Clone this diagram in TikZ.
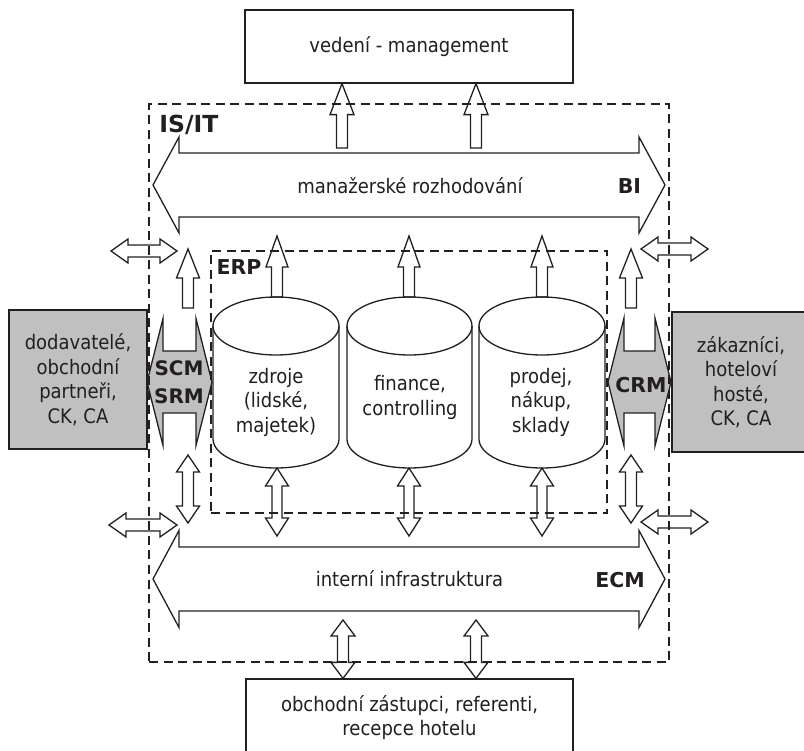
\documentclass[tikz,border=0pt]{standalone}
\usepackage{fontspec}
\setmainfont{DejaVu Sans Condensed}
\newfontfamily\labfont{DejaVu Sans}
\usetikzlibrary{calc}

\definecolor{ink}{RGB}{35,31,32}
\definecolor{boxgray}{RGB}{192,192,192}

% single block arrow: [style]{tail}{tip}{shaft half width}{head half width}{head length}
\newcommand\sglarrow[6][]{%
  \coordinate (hbase) at ($(#3)!#6pt!(#2)$);
  \draw[#1] ($(#2)!#4pt!90:(#3)$) -- ($(hbase)!#4pt!90:(#3)$) -- ($(hbase)!#5pt!90:(#3)$)
    -- (#3) -- ($(hbase)!#5pt!-90:(#3)$) -- ($(hbase)!#4pt!-90:(#3)$)
    -- ($(#2)!#4pt!-90:(#3)$) -- cycle;
}
% double block arrow: [style]{end A}{end B}{shaft half width}{head half width}{head length}
\newcommand\dblarrow[6][]{%
  \coordinate (hbA) at ($(#2)!#6pt!(#3)$);
  \coordinate (hbB) at ($(#3)!#6pt!(#2)$);
  \draw[#1] (#2) -- ($(hbA)!#5pt!90:(#3)$) -- ($(hbA)!#4pt!90:(#3)$)
    -- ($(hbB)!#4pt!90:(#3)$) -- ($(hbB)!#5pt!90:(#3)$) -- (#3)
    -- ($(hbB)!#5pt!-90:(#3)$) -- ($(hbB)!#4pt!-90:(#3)$)
    -- ($(hbA)!#4pt!-90:(#3)$) -- ($(hbA)!#5pt!-90:(#3)$) -- cycle;
}

\begin{document}
\begin{tikzpicture}[x=1pt,y=-1pt,
  ln/.style={draw=ink, line width=1.3pt, line join=miter},
  blk/.style={ln},
  grayarr/.style={ln, fill=boxgray},
  dashbox/.style={draw=ink, line width=2pt, dash pattern=on 9pt off 5.5pt},
  txt/.style={font=\fontsize{20}{24.5}\selectfont, text=ink, align=center, inner sep=0pt},
  lab/.style={font=\labfont\bfseries\fontsize{20.5}{24}\selectfont, text=ink, inner sep=0pt},
  box/.style={ln, fill=white, txt},
  graybox/.style={ln, fill=boxgray, txt},
]
\useasboundingbox (0,0) rectangle (804,751);
\fill[white] (0,0) rectangle (804,751);
\clip (0,0) rectangle (804,751);

% outside parties
\node[box, minimum width=328pt, minimum height=73pt] (mgmt) at (409,46.5) {vedení - management};
\node[box, minimum width=327pt, minimum height=77pt] (staff) at (409.5,717.5)
  {obchodní zástupci, referenti,\\recepce hotelu};
\node[graybox, minimum width=138pt, minimum height=139pt] (supp) at (78,379.5)
  {dodavatelé,\\obchodní\\partneři,\\CK, CA};
\node[graybox, minimum width=138pt, minimum height=140pt] (cust) at (741,382)
  {zákazníci,\\hoteloví\\hosté,\\CK, CA};

% SCM/SRM and CRM links
\coordinate (scmL) at (147,382); \coordinate (scmR) at (212,382);
\dblarrow[grayarr]{scmL}{scmR}{31}{63.5}{16}
\coordinate (crmL) at (608,382); \coordinate (crmR) at (671,382);
\dblarrow[grayarr]{crmL}{crmR}{31}{64}{16}

% ERP databases
\foreach \n/\cx/\rx in {c1/276/63, c2/409.5/62.5, c3/542/63}{
  \draw[ln, fill=white] (\cx-\rx,326) -- (\cx-\rx,439)
    arc[start angle=180, end angle=360, x radius=\rx pt, y radius=29pt] -- (\cx+\rx,326);
  \draw[ln] (\cx,326) ellipse[x radius=\rx pt, y radius=29pt];
}
\node[txt] (cyl1) at (276,402) {zdroje\\(lidské,\\majetek)};
\node[txt] (cyl2) at (410,397.5) {finance,\\controlling};
\node[txt] (cyl3) at (541,402) {prodej,\\nákup,\\sklady};

% BI and ECM layers
\coordinate (biL) at (153,185); \coordinate (biR) at (665,185);
\dblarrow[blk]{biL}{biR}{32}{48}{26}
\coordinate (ecmL) at (153,579); \coordinate (ecmR) at (665,579);
\dblarrow[blk]{ecmL}{ecmR}{32}{48.5}{26}

% reporting to management
\coordinate (mA0) at (342,148); \coordinate (mA1) at (mgmt.south -| mA0);
\sglarrow[blk]{mA0}{mA1}{5.5}{12}{31}
\coordinate (mB0) at (476,148); \coordinate (mB1) at (mgmt.south -| mB0);
\sglarrow[blk]{mB0}{mB1}{5.5}{12}{31}

% databases feeding BI
\foreach \n/\cx in {a/277, b/409, c/542}{
  \coordinate (up\n0) at (\cx,297); \coordinate (up\n1) at (\cx,236);
  \sglarrow[blk]{up\n0}{up\n1}{5.5}{11}{31}
  \coordinate (dn\n0) at (\cx,468); \coordinate (dn\n1) at (\cx,536);
  \dblarrow[blk]{dn\n0}{dn\n1}{5}{11.5}{18}
}

% side links
\foreach \n/\cx in {l/188, r/631}{
  \coordinate (sv\n0) at (\cx,308); \coordinate (sv\n1) at (\cx,249);
  \sglarrow[blk]{sv\n0}{sv\n1}{5.5}{11.5}{29}
  \coordinate (sd\n0) at (\cx,455); \coordinate (sd\n1) at (\cx,523);
  \dblarrow[blk]{sd\n0}{sd\n1}{5.5}{11.5}{17}
}

% links across the IS/IT border
\coordinate (hl0) at (111,251); \coordinate (hl1) at (177,251);
\dblarrow[blk]{hl0}{hl1}{6}{12}{17}
\coordinate (hr0) at (641,249); \coordinate (hr1) at (708,249);
\dblarrow[blk]{hr0}{hr1}{6}{12}{17}
\coordinate (ll0) at (109,525); \coordinate (ll1) at (177,525);
\dblarrow[blk]{ll0}{ll1}{6}{12}{17}
\coordinate (lr0) at (641,522); \coordinate (lr1) at (708,522);
\dblarrow[blk]{lr0}{lr1}{6}{12}{17}

% links to the front office
\coordinate (bA0) at (343,620); \coordinate (bA1) at (staff.north -| bA0);
\dblarrow[blk]{bA0}{bA1}{5.5}{12}{16}
\coordinate (bB0) at (476,620); \coordinate (bB1) at (staff.north -| bB0);
\dblarrow[blk]{bB0}{bB1}{5.5}{12}{16}

% labels
\node[txt] (bitxt) at (410,186) {manažerské rozhodování};
\node[txt] (ecmtxt) at (409.5,579) {interní infrastruktura};
\node[lab] (bilab) at (629.5,186.5) {BI};
\node[lab] (ecmlab) at (620,580) {ECM};
\node[lab, align=center, font=\labfont\bfseries\fontsize{20}{28}\selectfont] (scmlab) at (179,382) {SCM\\SRM};
\node[lab] (crmlab) at (641,385) {CRM};
\node[lab, font=\labfont\bfseries\fontsize{23.5}{26}\selectfont] (isitlab) at (189,124.5) {IS/IT};
\node[lab] (erplab) at (239,267.5) {ERP};

% system boundaries
\node[dashbox, inner sep=0pt, minimum width=520pt, minimum height=558pt] (isit) at (409,383) {};
\node[dashbox, inner sep=0pt, minimum width=396pt, minimum height=262pt] (erp) at (409,382) {};
\end{tikzpicture}
\end{document}
